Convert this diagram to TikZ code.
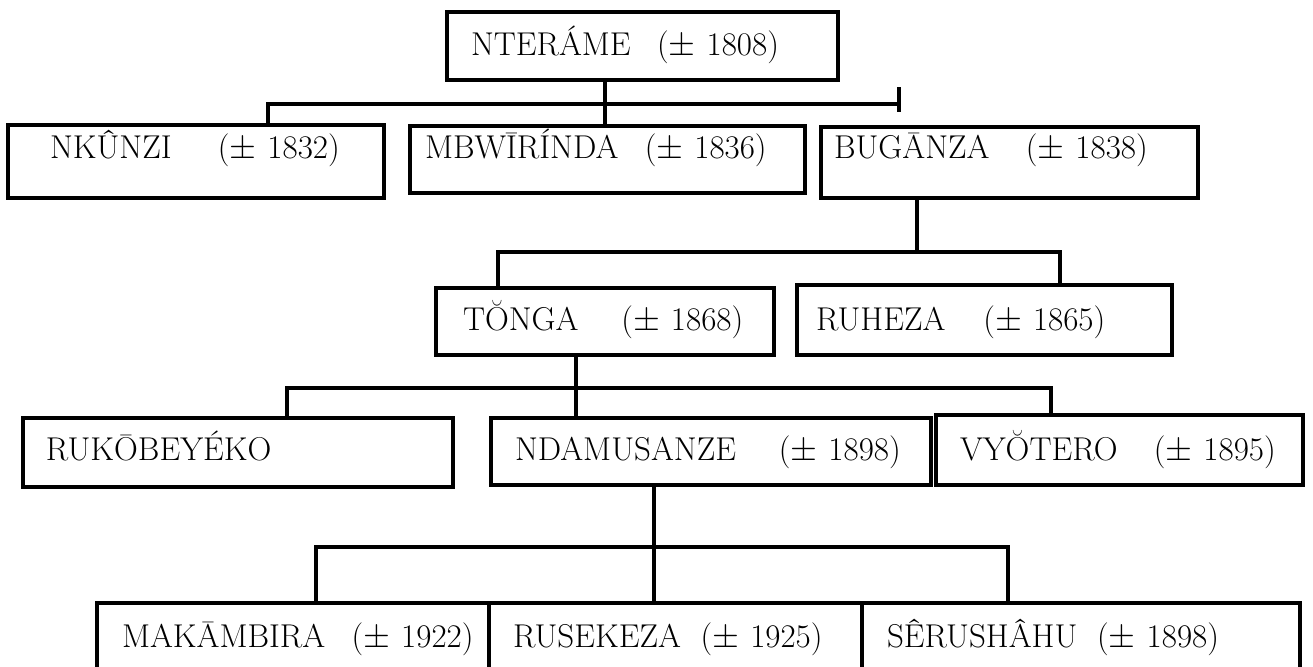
\documentclass[tikz,border=0pt]{standalone}
\usepackage{amsmath}
\usepackage{amssymb}
\tikzset{
  person/.style={draw, line width=2.2pt, anchor=north west, outer sep=0pt,
    inner ysep=0pt, align=left, font=\fontsize{16.5}{19}\selectfont},
  link/.style={line width=2.2pt}
}
\begin{document}
\begin{tikzpicture}[x=0.5pt,y=-0.5pt]
\useasboundingbox (0,0) rectangle (1313,666);
% Draw first generation
\node[person, text width=171.5pt, inner xsep=12pt, text height=21.5pt, text depth=12.5pt]
  (nterame) at (447,12) {NTERÁME\kern0.8em($\pm$~1808)};
% Draw second generation
\node[person, text width=146pt, inner xsep=21pt, text height=16.5pt, text depth=20pt]
  (nkunzi) at (8,125) {NKÛNZI\kern1.4em($\pm$~1832)};
\node[person, text width=182.5pt, inner xsep=7.5pt, text height=16pt, text depth=17.5pt]
  (mbwirinda) at (410,126) {MBWĪRÍNDA\kern0.8em($\pm$~1836)};
\node[person, text width=175.5pt, inner xsep=6.5pt, text height=15.5pt, text depth=20pt]
  (buganza) at (821,127) {BUGĀNZA\kern1.1em($\pm$~1838)};
% Draw third generation
\node[person, text width=142pt, inner xsep=13.5pt, text height=21pt, text depth=12.5pt]
  (tonga) at (436,288) {TŎNGA\kern1.3em($\pm$~1868)};
\node[person, text width=168.5pt, inner xsep=9.5pt, text height=22.5pt, text depth=12.5pt]
  (ruheza) at (797,285) {RUHEZA\kern1.15em($\pm$~1865)};
% Draw fourth generation
\node[person, text width=192pt, inner xsep=11.5pt, text height=21pt, text depth=13.5pt]
  (rukobeyeko) at (23,418) {RUKŌBEYÉKO};
\node[person, text width=196pt, inner xsep=12pt, text height=21pt, text depth=12.5pt]
  (ndamusanze) at (491,418) {NDAMUSANZE\kern1.3em($\pm$~1898)};
\node[person, text width=159.5pt, inner xsep=12pt, text height=22.5pt, text depth=12.5pt]
  (vyotero) at (936,415) {VYŎTERO\kern1.1em($\pm$~1895)};
% Draw fifth generation
\node[person, text width=171pt, inner xsep=12.5pt, text height=22pt, text depth=20pt]
  (makambira) at (97,603) {MAKĀMBIRA\kern0.8em($\pm$~1922)};
\node[person, text width=162.5pt, inner xsep=12pt, text height=22pt, text depth=20pt]
  (rusekeza) at (489,603) {RUSEKEZA\kern0.6em($\pm$~1925)};
\node[person, text width=194pt, inner xsep=12.5pt, text height=22pt, text depth=20pt]
  (serushahu) at (862,603) {SÊRUSHÂHU\kern0.6em($\pm$~1898)};
% Draw bus lines
\coordinate (bus1w) at (268,104);
\coordinate (bus1e) at (899,104);
\coordinate (bus1x) at (605,104);
\coordinate (tick1a) at (899,87);
\coordinate (tick1b) at (899,112);
\coordinate (bus2w) at (498,252);
\coordinate (bus2e) at (1060,252);
\coordinate (bus2x) at (917,252);
\coordinate (bus3w) at (287,388);
\coordinate (bus3e) at (1051,388);
\coordinate (bus3x) at (576,388);
\coordinate (bus4w) at (316,547);
\coordinate (bus4e) at (1008,547);
\coordinate (bus4x) at (654,547);
% Draw connectors
\draw[link] (nkunzi.north -| bus1w) -- (bus1w) -- (bus1e);
\draw[link] (tick1a) -- (tick1b);
\draw[link] (nterame.south -| bus1x) -- (mbwirinda.north -| bus1x);
\draw[link] (tonga.north -| bus2w) -- (bus2w) -- (bus2e) -- (ruheza.north -| bus2e);
\draw[link] (buganza.south -| bus2x) -- (bus2x);
\draw[link] (rukobeyeko.north -| bus3w) -- (bus3w) -- (bus3e) -- (vyotero.north -| bus3e);
\draw[link] (tonga.south -| bus3x) -- (ndamusanze.north -| bus3x);
\draw[link] (makambira.north -| bus4w) -- (bus4w) -- (bus4e) -- (serushahu.north -| bus4e);
\draw[link] (ndamusanze.south -| bus4x) -- (rusekeza.north -| bus4x);
\end{tikzpicture}
\end{document}
